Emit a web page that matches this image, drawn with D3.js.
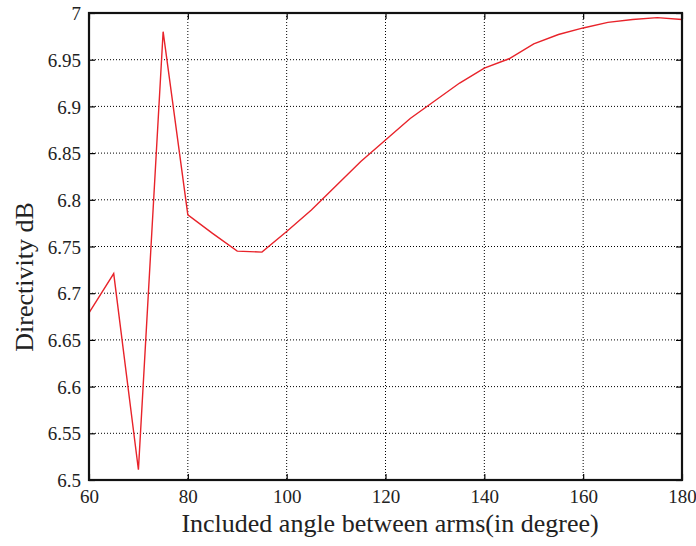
<!DOCTYPE html>
<html><head><meta charset="utf-8">
<script src="https://cdn.jsdelivr.net/npm/d3@7"></script>
<style>body{margin:0;background:#fff} text{font-family:'Liberation Serif','Times New Roman',serif}</style>
</head><body>
<svg id="c" width="696" height="546"></svg>
<script>
const angles = [60,65,70,75,80,85,90,95,100,105,110,115,120,125,130,135,140,145,150,155,160,165,170,175,180];
const directivity = [6.679,6.721,6.511,6.980,6.784,6.764,6.745,6.744,6.766,6.789,6.815,6.841,6.864,6.887,6.906,6.925,6.941,6.951,6.967,6.977,6.984,6.990,6.993,6.995,6.993];
const xTicks = [60,80,100,120,140,160,180];
const yTicks = [6.5,6.55,6.6,6.65,6.7,6.75,6.8,6.85,6.9,6.95,7];
const xTitle = "Included angle between arms(in degree)";
const yTitle = "Directivity dB";

const svg = d3.select("#c");
const L=89,R=682,T=13,B=480;
const x = d3.scaleLinear().domain([60,180]).range([L,R]);
const y = d3.scaleLinear().domain([6.5,7]).range([B,T]);
const font = "'Liberation Serif','Times New Roman',serif";

// grid
const g = svg.append("g");
g.selectAll(".vg").data(xTicks.slice(1,-1)).enter().append("line")
 .attr("x1",d=>x(d)).attr("x2",d=>x(d)).attr("y1",T).attr("y2",B)
 .attr("stroke","#000").attr("stroke-width",1).attr("stroke-dasharray","1,2");
g.selectAll(".hg").data(yTicks.slice(1,-1)).enter().append("line")
 .attr("y1",d=>y(d)).attr("y2",d=>y(d)).attr("x1",L).attr("x2",R)
 .attr("stroke","#000").attr("stroke-width",1).attr("stroke-dasharray","1,2");

// axes
const xa = svg.append("g").attr("transform",`translate(0,${B})`)
 .call(d3.axisBottom(x).tickValues(xTicks).tickSizeInner(-6).tickSizeOuter(0).tickPadding(10).tickFormat(d3.format("d")));
const xt = svg.append("g").attr("transform",`translate(0,${T})`)
 .call(d3.axisTop(x).tickValues(xTicks).tickSizeInner(-6).tickSizeOuter(0).tickFormat(""));
const ya = svg.append("g").attr("transform",`translate(${L},0)`)
 .call(d3.axisLeft(y).tickValues(yTicks).tickSizeInner(-6).tickSizeOuter(0).tickPadding(8).tickFormat(d=>String(+d.toFixed(2))));
const yr = svg.append("g").attr("transform",`translate(${R},0)`)
 .call(d3.axisRight(y).tickValues(yTicks).tickSizeInner(-6).tickSizeOuter(0).tickFormat(""));
[xa,xt,ya,yr].forEach(a=>{
  a.attr("font-family",font).attr("font-size",19);
  a.select(".domain").remove();
  a.selectAll("line").attr("stroke","#000").attr("stroke-width",1.2);
  a.selectAll("text").style("font-family",font).style("font-size","19px").attr("fill","#222");
});
ya.selectAll("text").attr("dy","0.35em");

// line
svg.append("path").datum(angles.map((a,i)=>[a,directivity[i]]))
 .attr("d",d3.line().x(d=>x(d[0])).y(d=>y(d[1])))
 .attr("fill","none").attr("stroke","#e8232a").attr("stroke-width",1.4);

// frame
svg.append("rect").attr("x",L).attr("y",T).attr("width",R-L).attr("height",B-T)
 .attr("fill","none").attr("stroke","#111").attr("stroke-width",2.2);

svg.append("text").attr("x",390).attr("y",532).attr("text-anchor","middle")
 .style("font-family",font).style("font-size","26px").attr("fill","#222").text(xTitle);
svg.append("text").attr("transform",`translate(33,277) rotate(-90)`).attr("text-anchor","middle")
 .style("font-family",font).style("font-size","26px").attr("fill","#222").text(yTitle);
</script>
</body></html>
